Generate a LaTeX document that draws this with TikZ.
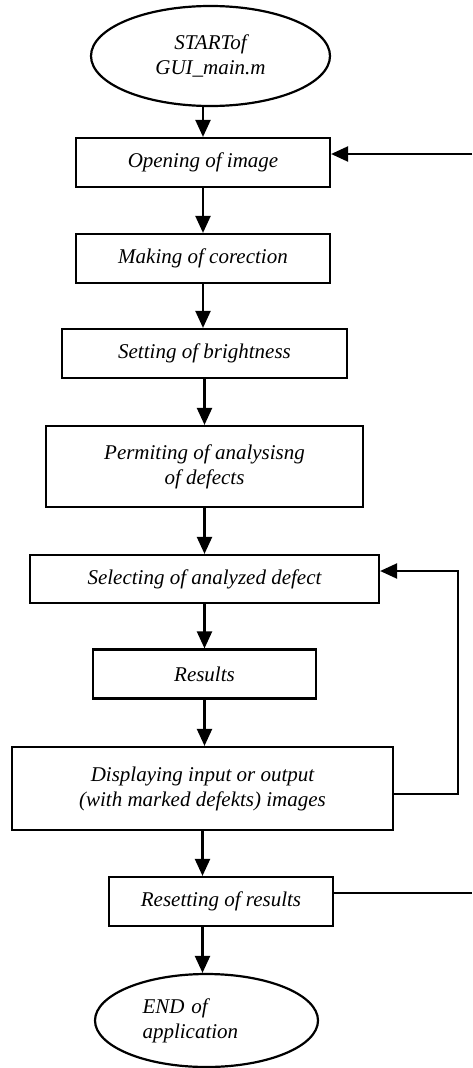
\documentclass[tikz,border=0pt]{standalone}
\usepackage{fontspec}
\setmainfont{Liberation Serif}
\usetikzlibrary{arrows.meta,shapes.geometric}
\begin{document}
\begin{tikzpicture}[x=1pt, y=-1pt, line width=2.2pt,
    every node/.style={font=\fontsize{21}{25}\selectfont\itshape, inner sep=0pt},
    box/.style={draw, rectangle, align=center},
    term/.style={draw, ellipse, align=center},
    arr/.style={-{Triangle[length=17pt,width=15pt]}}]{
    \useasboundingbox (0,0) rectangle (472,1068);
    \node [term, minimum width=239pt, minimum height=100pt] (Start) at (210.5,56) {STARTof\\GUI\_main.m};
    \node [box, minimum width=254pt, minimum height=49pt] (Opening) at (203,162.5) {Opening of image};
    \node [box, minimum width=254pt, minimum height=49pt] (Making) at (203,258.5) {Making of corection};
    \node [box, minimum width=285pt, minimum height=49pt] (Setting) at (204.5,353.5) {Setting of brightness};
    \node [box, minimum width=317pt, minimum height=81pt] (Permiting) at (204.5,466.5) {Permiting of analysisng\\of defects};
    \node [box, minimum width=349pt, minimum height=48pt] (Selecting) at (204.5,579) {Selecting of analyzed defect};
    \node [box, minimum width=223pt, minimum height=49pt] (Results) at (204.5,674) {Results};
    \node [box, minimum width=381pt, minimum height=83pt] (Displaying) at (202.5,788.5) {Displaying input or output\\(with marked defekts) images};
    \node [box, minimum width=224pt, minimum height=49pt] (Resetting) at (221,901.5) {Resetting of results};
    \node [term, minimum width=223pt, minimum height=93pt, text width=128pt, align=left] (End) at (206.5,1020.5) {END of\\application};
    \coordinate (FeedIn) at (472,154);
    \coordinate (FeedOut) at (472,893);

    \path [arr] (Start.south -| Opening.north) edge (Opening.north);
    \path [arr] (Opening.south) edge (Opening.south |- Making.north);
    \path [arr] (Making.south) edge (Making.south |- Setting.north);
    \path [arr] (Setting.south) edge (Setting.south |- Permiting.north);
    \path [arr] (Permiting.south) edge (Permiting.south |- Selecting.north);
    \path [arr] (Selecting.south) edge (Selecting.south |- Results.north);
    \path [arr] (Results.south) edge (Results.south |- Displaying.north);
    \path [arr] (Displaying.south) edge (Displaying.south |- Resetting.north);
    \path [arr] (Displaying.south |- Resetting.south) edge (Displaying.south |- End.north);
    \draw [arr] ([yshift=-5.5pt]Displaying.east) -- ++(64,0) |- ([yshift=8pt]Selecting.east);
    \draw [arr] (FeedIn) -- (FeedIn -| Opening.east);
    \draw (Resetting.east |- FeedOut) -- (FeedOut);
    }
\end{tikzpicture}
\end{document}
